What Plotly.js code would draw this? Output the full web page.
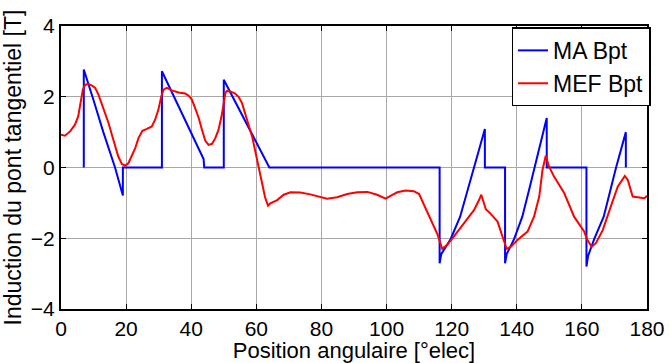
<!DOCTYPE html>
<html>
<head>
<meta charset="utf-8">
<script src="https://cdn.plot.ly/plotly-3.0.1.min.js"></script>
<style>html,body{margin:0;padding:0;background:#fff;}#chart{width:670px;height:363px;}</style>
</head>
<body>
<div id="chart"></div>
<script>
// MA Bpt (analytical model)
const maX = [7, 7, 10, 13, 16.6, 19, 19, 31, 31, 37, 43.8, 44, 50, 50, 57, 64, 116.3, 116.3, 116.8, 119.7, 122.6, 125.2, 126.8, 130.2, 130.2, 136.4, 136.4, 136.9, 139.2, 141.7, 144.0, 145.5, 149.2, 149.2, 161.4, 161.4, 161.9, 163.8, 166.7, 169.0, 170.5, 173.5, 173.5];
const maY = [0, 2.77, 1.9, 1.0, 0, -0.79, 0, 0, 2.72, 1.55, 0.24, 0, 0, 2.48, 1.24, 0, 0, -2.71, -2.45, -2.02, -1.39, -0.55, 0, 1.09, 0, 0, -2.71, -2.45, -2.02, -1.39, -0.55, 0, 1.40, 0, 0, -2.80, -2.50, -2.02, -1.39, -0.55, 0, 1.00, 0];

// MEF Bpt (finite element model)
const mefX = [0, 1.2, 2.8, 4.3, 5.3, 6.1, 6.7, 7.4, 8.4, 9.4, 10.5, 11.5, 12.5, 13.5, 14.6, 15.6, 16.6, 17.6, 18.7, 19.7, 20.7, 21.7, 22.8, 23.8, 25.0, 26.4, 27.9, 28.9, 29.9, 30.8, 31.5, 32.5, 34.1, 36.1, 38.2, 39.2, 40.2, 41.2, 42.3, 43.3, 44.3, 45.3, 46.4, 47.4, 48.4, 49.4, 49.9, 50.5, 51.0, 52.0, 53.5, 54.6, 55.6, 56.6, 57.6, 58.7, 59.7, 60.7, 61.7, 62.7, 63.6, 64.3, 66.4, 68.4, 70.5, 73.5, 76.6, 79.7, 81.7, 84.8, 87.9, 91.0, 94.1, 97.1, 99.7, 101.2, 103.3, 105.8, 108.4, 110.0, 111.5, 113.5, 115.6, 117.1, 118.7, 120.7, 123.8, 126.9, 128.4, 129.1, 129.6, 130.5, 132.0, 134.1, 135.6, 136.9, 138.2, 140.2, 143.3, 145.3, 146.9, 147.9, 148.9, 149.9, 151.4, 154.6, 157.6, 160.7, 161.7, 163.0, 164.3, 166.4, 168.9, 171.0, 173.2, 174.1, 175.6, 178.2, 179.2, 180];
const mefY = [0.93, 0.90, 1.02, 1.21, 1.45, 1.82, 2.20, 2.34, 2.36, 2.32, 2.25, 2.06, 1.82, 1.54, 1.26, 0.93, 0.60, 0.31, 0.10, 0.05, 0.12, 0.31, 0.55, 0.83, 1.04, 1.09, 1.16, 1.35, 1.63, 2.01, 2.20, 2.25, 2.18, 2.12, 2.09, 2.03, 1.92, 1.68, 1.40, 1.07, 0.76, 0.64, 0.67, 0.83, 1.07, 1.49, 1.82, 2.11, 2.17, 2.15, 2.09, 1.99, 1.82, 1.54, 1.21, 0.88, 0.45, 0.03, -0.45, -0.85, -1.08, -1.01, -0.92, -0.77, -0.70, -0.71, -0.76, -0.84, -0.88, -0.84, -0.75, -0.70, -0.69, -0.77, -0.88, -0.80, -0.70, -0.65, -0.67, -0.75, -1.06, -1.45, -1.88, -2.30, -2.18, -1.95, -1.58, -1.20, -0.92, -0.77, -0.92, -1.18, -1.31, -1.53, -1.95, -2.30, -2.24, -2.05, -1.81, -1.39, -0.82, -0.07, 0.33, 0.03, -0.25, -0.73, -1.39, -1.81, -2.05, -2.24, -2.14, -1.77, -1.10, -0.54, -0.24, -0.35, -0.82, -0.87, -0.87, -0.80];

const xTicks = [0, 20, 40, 60, 80, 100, 120, 140, 160, 180];
const yTicks = [-4, -2, 0, 2, 4];

const FONT = 'Liberation Sans, Arial, sans-serif';

const traces = [
  {x: maX, y: maY, name: 'MA Bpt', type: 'scatter', mode: 'lines', line: {color: '#0000ff', width: 2}},
  {x: mefX, y: mefY, name: 'MEF Bpt', type: 'scatter', mode: 'lines', line: {color: '#ff0000', width: 2}}
];

const axisCommon = {
  showline: true, linecolor: '#000', linewidth: 2, mirror: 'ticks',
  ticks: 'inside', ticklen: 5, tickcolor: '#000', tickwidth: 1,
  showgrid: true, gridcolor: '#a8a8a8', gridwidth: 1,
  zeroline: false, tickfont: {family: FONT, size: 21, color: '#000'}
};

const layout = {
  width: 670, height: 363,
  margin: {l: 61, r: 23, t: 26, b: 54},
  paper_bgcolor: '#fff', plot_bgcolor: '#fff',
  font: {family: FONT, color: '#000', size: 22},
  xaxis: Object.assign({}, axisCommon, {
    range: [0, 180], tickmode: 'array', tickvals: xTicks,
    title: {text: 'Position angulaire [°elec]', font: {family: FONT, size: 22, color: '#000'}, standoff: 2}
  }),
  yaxis: Object.assign({}, axisCommon, {
    range: [-4, 4], tickmode: 'array', tickvals: yTicks,
    title: {text: 'Induction du pont tangentiel [T]', font: {family: FONT, size: 23, color: '#000'}, standoff: 5}
  }),
  legend: {
    x: 1.006, xanchor: 'right', y: 0.995, yanchor: 'top',
    bgcolor: '#fff', bordercolor: '#000', borderwidth: 1.5,
    font: {family: FONT, size: 23, color: '#000'},
    itemwidth: 30, tracegroupgap: 0
  },
  showlegend: true
};

Plotly.newPlot('chart', traces, layout, {displayModeBar: false, staticPlot: true});
</script>
</body>
</html>
